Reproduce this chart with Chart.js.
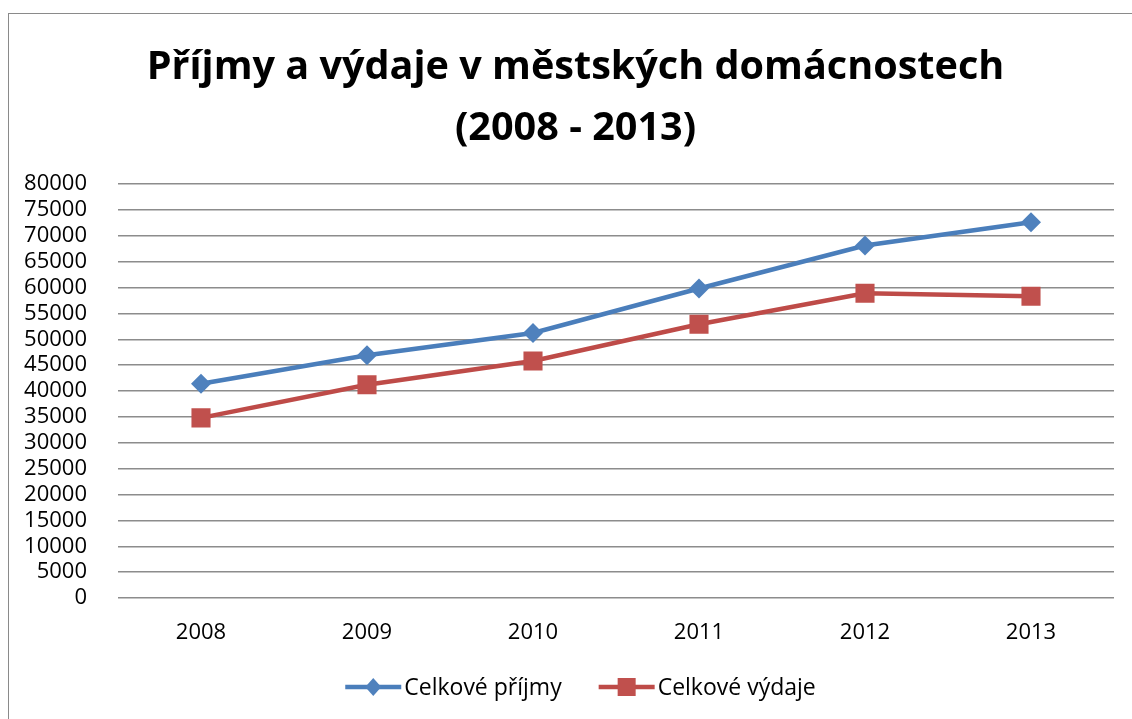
<!DOCTYPE html>
<html>
<head>
<meta charset="utf-8">
<script src="https://cdn.jsdelivr.net/npm/chart.js@4/dist/chart.umd.min.js"></script>
<style>
  html, body { margin: 0; padding: 0; background: #fff; overflow: hidden; }
  #frame { position: absolute; left: 8px; top: 13px; width: 2000px; height: 2000px;
           border-left: 1.5px solid #8a8a8a; border-top: 1.5px solid #8a8a8a; }
  #wrap { position: absolute; left: 0; top: 0; width: 1132px; height: 719px; }
</style>
</head>
<body>
<div id="frame"></div>
<div id="wrap"><canvas id="c" width="1132" height="719"></canvas></div>
<script>
const years = ['2008', '2009', '2010', '2011', '2012', '2013'];
const prijmy = [41400, 46900, 51200, 59800, 68100, 72600];
const vydaje = [34800, 41200, 45800, 52900, 58900, 58300];
const seriesNames = ['Celkové příjmy', 'Celkové výdaje'];
const titleLines = ['Příjmy a výdaje v městských domácnostech', '(2008 - 2013)'];
const yMin = 0, yMax = 80000, yStep = 5000;

const BLUE_LINE = '#4A7EBB', BLUE_PT = '#4F81BD';
const RED_LINE = '#BE4B48', RED_PT = '#C0504D';
const FONT = '"Open Sans", Lato, sans-serif';

// Title centred on the whole Excel chart frame (not on the plot)
const excelTitle = {
  id: 'excelTitle',
  afterDraw(chart) {
    const ctx = chart.ctx;
    ctx.save();
    ctx.font = 'bold 39.6px ' + FONT;
    ctx.fillStyle = '#000';
    ctx.textAlign = 'center';
    ctx.textBaseline = 'alphabetic';
    const baselines = [78.5, 139.5];
    titleLines.forEach((t, i) => ctx.fillText(t, 575.5, baselines[i]));
    ctx.restore();
  }
};

// Excel-style legend: short line with marker, then text
const excelLegend = {
  id: 'excelLegend',
  afterDraw(chart) {
    const ctx = chart.ctx;
    const fontSize = 23;
    ctx.save();
    ctx.font = fontSize + 'px ' + FONT;
    const lineLen = 56, gapText = 3, gapItem = 37;
    const items = chart.data.datasets.map(ds => ({ ds, tw: ctx.measureText(ds.label).width }));
    let total = 0;
    items.forEach((it, i) => { total += lineLen + gapText + it.tw + (i < items.length - 1 ? gapItem : 0); });
    let x = 580.5 - total / 2;
    const cy = 687;
    items.forEach(it => {
      const ds = it.ds;
      ctx.strokeStyle = ds.borderColor; ctx.lineWidth = 4.5;
      ctx.beginPath(); ctx.moveTo(x, cy); ctx.lineTo(x + lineLen, cy); ctx.stroke();
      const mx = x + lineLen / 2;
      ctx.fillStyle = ds.pointBackgroundColor;
      if (ds.pointStyle === 'rectRot') {
        ctx.beginPath(); ctx.moveTo(mx, cy - 9); ctx.lineTo(mx + 8, cy); ctx.lineTo(mx, cy + 9); ctx.lineTo(mx - 8, cy); ctx.closePath(); ctx.fill();
      } else {
        ctx.fillRect(mx - 9, cy - 9, 18, 18);
      }
      x += lineLen + gapText;
      ctx.fillStyle = '#000'; ctx.textBaseline = 'middle'; ctx.textAlign = 'left';
      ctx.fillText(ds.label, x, cy + 1);
      x += it.tw + gapItem;
    });
    ctx.restore();
  }
};

new Chart(document.getElementById('c'), {
  type: 'line',
  data: {
    labels: years,
    datasets: [
      { label: seriesNames[0], data: prijmy, borderColor: BLUE_LINE, backgroundColor: BLUE_PT,
        borderWidth: 4.5, pointStyle: 'rectRot', pointRadius: 10, pointBorderWidth: 0,
        pointBackgroundColor: BLUE_PT, pointHoverRadius: 10, tension: 0 },
      { label: seriesNames[1], data: vydaje, borderColor: RED_LINE, backgroundColor: RED_PT,
        borderWidth: 4.5, pointStyle: 'rect', pointRadius: 13.5, pointBorderWidth: 0,
        pointBackgroundColor: RED_PT, pointHoverRadius: 13.5, tension: 0 }
    ]
  },
  plugins: [excelTitle, excelLegend],
  options: {
    responsive: false,
    animation: false,
    layout: { padding: { left: 0, right: 18, top: 184, bottom: 50.6 } },
    plugins: {
      title: { display: false },
      legend: { display: false },
      tooltip: { enabled: false }
    },
    scales: {
      x: {
        offset: true,
        grid: { display: false, drawTicks: false },
        border: { display: false },
        ticks: { color: '#000', font: { family: FONT, size: 22 }, padding: 22 }
      },
      y: {
        min: yMin, max: yMax,
        grid: { color: '#8c8c8c', lineWidth: 1.5, drawTicks: false },
        border: { display: false },
        ticks: { stepSize: yStep, autoSkip: false, color: '#000', font: { family: FONT, size: 22, lineHeight: 1.1 }, padding: 31,
                 callback: (v) => String(v) },
        afterFit: (s) => { s.width = 118; }
      }
    }
  }
});
</script>
</body>
</html>
